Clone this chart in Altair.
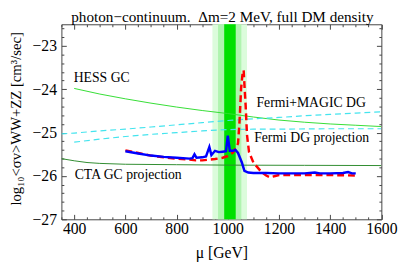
import altair as alt
import pandas as pd

FONT = "Liberation Serif"
FRAME = "#444444"
W, H = 326.5, 199.0
X_DOMAIN = [350, 1600]
Y_DOMAIN = [-27, -22.5]

# tick positions / labels
x_major = [400, 600, 800, 1000, 1200, 1400, 1600]
x_ticks = [350, 400, 450, 500, 550, 600, 650, 700, 750, 800, 850, 900, 950, 1000,
           1050, 1100, 1150, 1200, 1250, 1300, 1350, 1400, 1450, 1500, 1550, 1600]
y_major = [-27, -26, -25, -24, -23]
y_ticks = [-27, -26.8, -26.6, -26.4, -26.2, -26, -25.8, -25.6, -25.4, -25.2, -25,
           -24.8, -24.6, -24.4, -24.2, -24, -23.8, -23.6, -23.4, -23.2, -23, -22.8, -22.6]

# vertical green bands
band_lo = [940, 962, 986]
band_hi = [1075, 1053, 1031]
band_col = ["#dcfcdc", "#b0f4b0", "#00e000"]

# HESS GC
hess_x = [400, 500, 600, 700, 800, 900, 1000, 1100, 1200, 1300, 1400, 1500, 1600]
hess_y = [-23.98, -24.11, -24.22, -24.32, -24.41, -24.49, -24.56, -24.64, -24.71,
          -24.76, -24.80, -24.83, -24.86]

# Fermi+MAGIC DG
fm_x = [350, 400, 500, 600, 700, 800, 900, 1000, 1100, 1200, 1300, 1400, 1500, 1600]
fm_y = [-25.03, -25.01, -24.96, -24.92, -24.87, -24.82, -24.77, -24.72, -24.68,
        -24.65, -24.61, -24.58, -24.55, -24.52]

# Fermi DG projection
fp_x = [400, 500, 600, 700, 800, 900, 1000, 1100, 1200, 1400, 1600]
fp_y = [-25.22, -25.15, -25.09, -25.04, -25.00, -24.96, -24.93, -24.92, -24.92,
        -24.91, -24.91]

# CTA GC projection
cta_x = [350, 400, 450, 500, 600, 800, 1000, 1300, 1600]
cta_y = [-25.60, -25.65, -25.69, -25.71, -25.73, -25.74, -25.75, -25.755, -25.76]

# blue solid curve
blue_x = [600, 650, 700, 750, 800, 850, 862, 870, 878, 900, 915, 928, 936, 950, 965,
          980, 993, 1000, 1008, 1020, 1030, 1040, 1055, 1065, 1080, 1100, 1150, 1200,
          1250, 1300, 1340, 1360, 1400, 1450, 1470, 1485, 1500]
blue_y = [-25.43, -25.48, -25.53, -25.56, -25.58, -25.60, -25.59, -25.50, -25.58,
          -25.57, -25.55, -25.33, -25.52, -25.42, -25.45, -25.44, -25.43, -25.07,
          -25.42, -25.42, -25.40, -25.47, -25.69, -25.88, -25.92, -25.93, -25.93,
          -25.94, -25.94, -25.94, -25.92, -25.94, -25.94, -25.93, -25.91, -25.94, -25.94]

# red dashed curve
red_x = [600, 650, 700, 750, 800, 850, 875, 900, 950, 980, 1000, 1020, 1032, 1040,
         1046, 1052, 1058, 1062, 1066, 1070, 1075, 1083, 1100, 1130, 1150, 1165, 1185,
         1200, 1300, 1400, 1500]
red_y = [-25.41, -25.47, -25.53, -25.57, -25.60, -25.62, -25.64, -25.64, -25.61,
         -25.58, -25.54, -25.46, -25.35, -25.25, -24.73, -23.98, -23.62, -23.56,
         -24.00, -24.40, -25.05, -25.45, -25.69, -25.90, -25.99, -26.03, -26.00,
         -25.98, -25.98, -25.98, -25.99]

# annotations
lab_text = ["HESS GC", "Fermi+MAGIC DG", "Fermi DG projection", "CTA GC projection"]
lab_x = [398, 1112, 1103, 402]
lab_y = [-23.74, -24.31, -25.12, -25.99]

TITLE = "photon\u2212continuum.\u00a0 \u0394m=2 MeV, full DM density"
YTITLE = "log\u2081\u2080<\u03c3v>WW+ZZ [cm\u00b3/sec]"

xs = alt.Scale(domain=X_DOMAIN, nice=False, zero=False)
ys = alt.Scale(domain=Y_DOMAIN, nice=False, zero=False)

x_size = {"condition": {"test": "datum.value % 200 === 0", "value": 5}, "value": 2.5}
y_size = {"condition": {"test": "abs(datum.value - round(datum.value)) < 0.001", "value": 5},
          "value": 2.5}

# label axes
ax_x_lab = alt.Axis(orient="bottom", values=x_major, ticks=False, domain=False, grid=False,
                    labelFont=FONT, labelFontSize=16, labelColor="black", labelPadding=2,
                    labelFlush=False, labelOverlap=False, format="d",
                    title="\u03bc [GeV]", titleFont=FONT, titleFontSize=16,
                    titleFontWeight="normal", titleColor="black", titleBaseline="alphabetic",
                    titleY=38.5)
ax_y_lab = alt.Axis(orient="left", values=y_major, ticks=False, domain=False, grid=False,
                    labelFont=FONT, labelFontSize=16, labelColor="black", labelPadding=5,
                    labelFlush=False, labelOverlap=False,
                    labelExpr="replace(format(datum.value, 'd'), '-', '\u2212')",
                    title=YTITLE, titleFont=FONT, titleFontSize=15, titleFontWeight="normal",
                    titleColor="black", titleAngle=-90, titleAlign="center",
                    titleBaseline="middle", titleX=-47, titleY=96)
# inward tick axes
ax_x_in_bottom = alt.Axis(orient="top", offset=-H, values=x_ticks, labels=False,
                          domain=False, grid=False, title=None, tickColor=FRAME,
                          tickSize=x_size)
ax_x_in_top = alt.Axis(orient="bottom", offset=-H, values=x_ticks, labels=False,
                       domain=False, grid=False, title=None, tickColor=FRAME,
                       tickSize=x_size)
ax_y_in_left = alt.Axis(orient="right", offset=-W, values=y_ticks, labels=False,
                        domain=False, grid=False, title=None, tickColor=FRAME,
                        tickSize=y_size)
ax_y_in_right = alt.Axis(orient="left", offset=-W, values=y_ticks, labels=False,
                         domain=False, grid=False, title=None, tickColor=FRAME,
                         tickSize=y_size)

bands = pd.DataFrame({"lo": band_lo, "hi": band_hi, "col": band_col,
                      "ylo": [Y_DOMAIN[0]] * 3, "yhi": [Y_DOMAIN[1]] * 3})
band_layer = alt.Chart(bands).mark_rect().encode(
    x=alt.X("lo:Q", scale=xs, axis=ax_x_lab), x2="hi:Q",
    y=alt.Y("ylo:Q", scale=ys, axis=ax_y_lab), y2="yhi:Q",
    color=alt.Color("col:N", scale=None))


def line(xv, yv, color, width, dash=None, xaxis=None, yaxis=None):
    df = pd.DataFrame({"x": xv, "y": yv})
    kw = dict(color=color, strokeWidth=width, clip=True)
    if dash:
        kw["strokeDash"] = dash
    return alt.Chart(df).mark_line(**kw).encode(
        x=alt.X("x:Q", scale=xs, axis=xaxis),
        y=alt.Y("y:Q", scale=ys, axis=yaxis))


cta = line(cta_x, cta_y, "#2e8b2e", 1, xaxis=ax_x_in_bottom, yaxis=ax_y_in_left)
hess = line(hess_x, hess_y, "#33dd33", 1, xaxis=ax_x_in_top, yaxis=ax_y_in_right)
fm = line(fm_x, fm_y, "#44e4ee", 1.2, dash=[6, 4])
fp = line(fp_x, fp_y, "#44e4ee", 1.2, dash=[6, 4])
red = line(red_x, red_y, "#ff0000", 2.5, dash=[7, 4])
blue = line(blue_x, blue_y, "#0000ff", 2.5)

labels = pd.DataFrame({"t": lab_text, "x": lab_x, "y": lab_y})
text = alt.Chart(labels).mark_text(align="left", baseline="middle", font=FONT,
                                   fontSize=14, color="black").encode(
    x=alt.X("x:Q", scale=xs, axis=None), y=alt.Y("y:Q", scale=ys, axis=None), text="t:N")

title_df = pd.DataFrame({"t": [TITLE]})
title = alt.Chart(title_df).mark_text(align="center", baseline="alphabetic", font=FONT,
                                      fontSize=15.5, color="black").encode(
    x=alt.value(W / 2 + 1), y=alt.value(-2.8), text="t:N")

chart = alt.layer(band_layer, cta, hess, fm, fp, red, blue, text, title).resolve_axis(
    x="independent", y="independent"
).properties(
    width=W, height=H,
    autosize=alt.AutoSizeParams(type="none"),
    padding={"left": 54.5, "top": 14, "right": 18, "bottom": 43},
).configure_view(stroke=FRAME, strokeWidth=1)

chart.save("out.html", embed_options={"renderer": "svg", "actions": False})
